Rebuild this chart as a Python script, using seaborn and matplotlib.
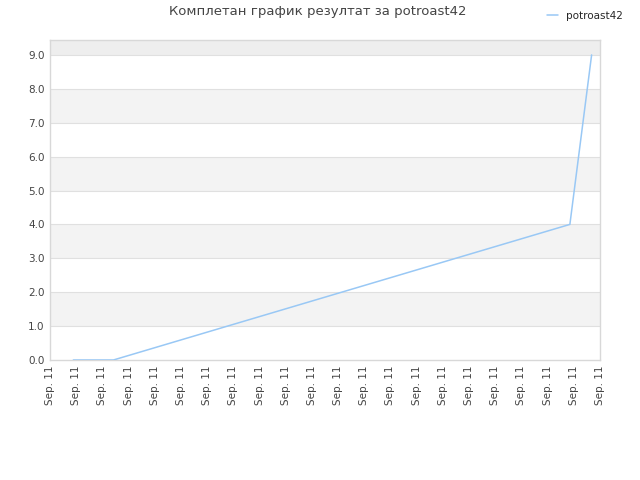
import numpy as np
import pandas as pd
import matplotlib
matplotlib.use("Agg")
import matplotlib.pyplot as plt
import seaborn as sns

# podaci procitani sa slike (x u jedinicama podeoka)
x_vals = [0.89, 2.42, 19.85, 20.68]
rezultat = [0.0, 0.0, 4.0, 9.0]
tick_labels = ["Sep. 11"] * 22
igrac = "potroast42"
naslov = "Комплетан график резултат за potroast42"

sns.set_style("white")
plt.rcParams["font.family"] = ["DejaVu Sans"]

df = pd.DataFrame({"x": x_vals, "rezultat": rezultat})

fig = plt.figure(figsize=(6.4, 4.8), dpi=100)
ax = fig.add_axes([50 / 640, 120 / 480, 550 / 640, 320 / 480])

ymax = 9.44
# naizmenicne trake
for lo in range(1, 10, 2):
    hi = min(lo + 1, ymax)
    boja = "#eeeeee" if lo == 9 else "#f3f3f3"
    ax.axhspan(lo, hi, color=boja, zorder=0, lw=0)
for yv in range(1, 10):
    ax.axhline(yv, color="#e0e0e0", lw=0.8, zorder=1)

sns.lineplot(data=df, x="x", y="rezultat", ax=ax, color="#99c8f5",
             lw=1.1, label=igrac, zorder=3)

ax.set_xlim(0, 21)
ax.set_ylim(0, ymax)
ax.set_xticks(np.arange(len(tick_labels)))
ax.set_xticklabels(tick_labels, rotation=90, fontsize=7.5, color="#444444")
ax.set_yticks(np.arange(0, 10))
ax.set_yticklabels([f"{v:.1f}" for v in range(10)], fontsize=7.5, color="#444444")
ax.tick_params(length=0, pad=4)
ax.set_xlabel("")
ax.set_ylabel("")
for s in ax.spines.values():
    s.set_color("#d8d8d8")
    s.set_linewidth(1)

ax.legend_.remove()
fig.legend(loc="upper right", bbox_to_anchor=(0.988, 0.997), frameon=False,
           fontsize=7.5, handlelength=1.0, handletextpad=0.8)

fig.text(0.497, 0.975, naslov, ha="center", va="center", fontsize=9.5,
         color="#444444")

fig.savefig("out.png", dpi=100)
